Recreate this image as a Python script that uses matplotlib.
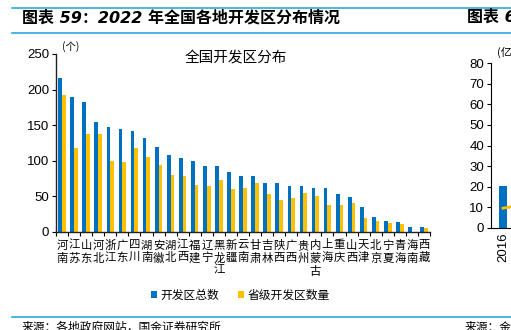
import matplotlib
matplotlib.use("Agg")
import matplotlib.pyplot as plt
import numpy as np

plt.rcParams['font.family'] = ['Liberation Sans', 'Noto Sans CJK SC', 'DejaVu Sans']

provinces = ["河南", "江苏", "山东", "河北", "浙江", "广东", "四川", "湖南", "安徽", "湖北",
             "江西", "福建", "辽宁", "黑龙江", "新疆", "云南", "甘肃", "吉林", "陕西", "广西",
             "贵州", "内蒙古", "上海", "重庆", "山西", "天津", "北京", "宁夏", "青海", "海南", "西藏"]
total = [216, 190, 183, 155, 147, 145, 142, 132, 120, 108,
         104, 100, 93, 93, 84, 79, 78, 69, 69, 65,
         64, 62, 62, 53, 49, 35, 21, 16, 14, 7, 7]
provincial = [193, 118, 137, 137, 100, 99, 118, 106, 94, 80,
              79, 66, 64, 73, 60, 62, 69, 54, 45, 48,
              55, 50, 38, 38, 41, 20, 15, 12, 11, 0, 5]
yticks = [0, 50, 100, 150, 200, 250]

right_years = ["2016", "2017"]
right_bar = [20.6, 26.0]
right_line = [9.6, 12.0]
right_yticks = [0, 10, 20, 30, 40, 50, 60, 70, 80]

BLUE = "#0070C0"
YELLOW = "#FFC000"
RULE = "#2EA7E0"
W, H = 511, 330

fig = plt.figure(figsize=(W / 100, H / 100), dpi=100)

def fx(px):
    return px / W

def fy(py):
    return 1 - py / H

# header / footer rules
for yy in (8, 33, 317):
    fig.add_artist(plt.Line2D([fx(12), 1.0], [fy(yy), fy(yy)], color=RULE, lw=1.2))

fig.text(fx(22), fy(17.5), "图表 59：2022 年全国各地开发区分布情况", fontsize=11.5,
         fontweight='bold', style='italic', va='center', ha='left',
         family=['DejaVu Sans', 'Noto Sans CJK SC'])
fig.text(fx(467), fy(17.5), "图表 60：", fontsize=11.5, fontweight='bold', style='italic',
         va='center', ha='left', family=['DejaVu Sans', 'Noto Sans CJK SC'])
fig.text(fx(22), fy(327), "来源：各地政府网站，国金证券研究所", fontsize=8.5, va='center', ha='left',
         family=['Noto Sans CJK SC'])
fig.text(fx(465), fy(327), "来源：金", fontsize=8.5, va='center', ha='left',
         family=['Noto Sans CJK SC'])

# main axes
ax = fig.add_axes([fx(56), fy(232), fx(430) - fx(56), fy(54) - fy(232)])
x = np.arange(len(provinces))
bw = 0.31
ax.bar(x - bw / 2, total, width=bw, color=BLUE, label="开发区总数")
ax.bar(x + bw / 2, provincial, width=bw, color=YELLOW, label="省级开发区数量")
ax.set_xlim(-0.5, len(provinces) - 0.5)
ax.set_ylim(0, 250)
ax.set_yticks(yticks)
ax.tick_params(axis='y', direction='out', length=3, width=0.8, labelsize=9.5, pad=2)
for s in ('top', 'right'):
    ax.spines[s].set_visible(False)
for s in ('left', 'bottom'):
    ax.spines[s].set_linewidth(1.0)
    ax.spines[s].set_color('#222222')
ax.set_xticks(x)
ax.set_xticklabels(["\n".join(p) for p in provinces], fontsize=8.2, linespacing=1.2,
                   family=['Noto Sans CJK SC'], va='top')
ax.tick_params(axis='x', length=0, pad=6)
ax.set_xticks(np.arange(-0.5, len(provinces), 1.0), minor=True)
ax.tick_params(axis='x', which='minor', direction='out', length=3, width=0.8)
fig.text(fx(62), fy(47), "(个)", fontsize=7.5, family=['Noto Sans CJK SC'], ha='left', va='center')
fig.text(fx(236), fy(58), "全国开发区分布", fontsize=10.5, family=['Noto Sans CJK SC'],
         ha='center', va='center', fontweight='light')
leg = fig.legend(loc='center', bbox_to_anchor=(fx(240), fy(295)), ncol=2, frameon=False,
                 prop={'family': 'Noto Sans CJK SC', 'size': 8.5}, handlelength=0.5,
                 handleheight=0.5, handletextpad=0.3, columnspacing=1.6)

# right (partial) chart
ax2 = fig.add_axes([fx(491), fy(228), fx(700) - fx(491), fy(63) - fy(228)])
xr = np.arange(len(right_years))
unit = 30.0  # pixels per category on the right chart
ax2.bar(xr, right_bar, width=8 / unit, color=BLUE)
ax2.plot(xr, right_line, color=YELLOW, lw=2)
ax2.set_xlim(-12 / unit, -12 / unit + 209 / unit)
ax2.set_ylim(0, 80)
ax2.set_yticks(right_yticks)
ax2.set_xticks(xr)
ax2.set_xticklabels(right_years, rotation=90, fontsize=9.5)
ax2.tick_params(axis='y', direction='out', length=3, labelsize=9.5, pad=2)
ax2.tick_params(axis='x', length=0, pad=3)
for s in ('top', 'right'):
    ax2.spines[s].set_visible(False)
fig.text(fx(497), fy(52), "(亿", fontsize=8, family=['Noto Sans CJK SC'], ha='left', va='center')

fig.savefig("out.png", dpi=100)
